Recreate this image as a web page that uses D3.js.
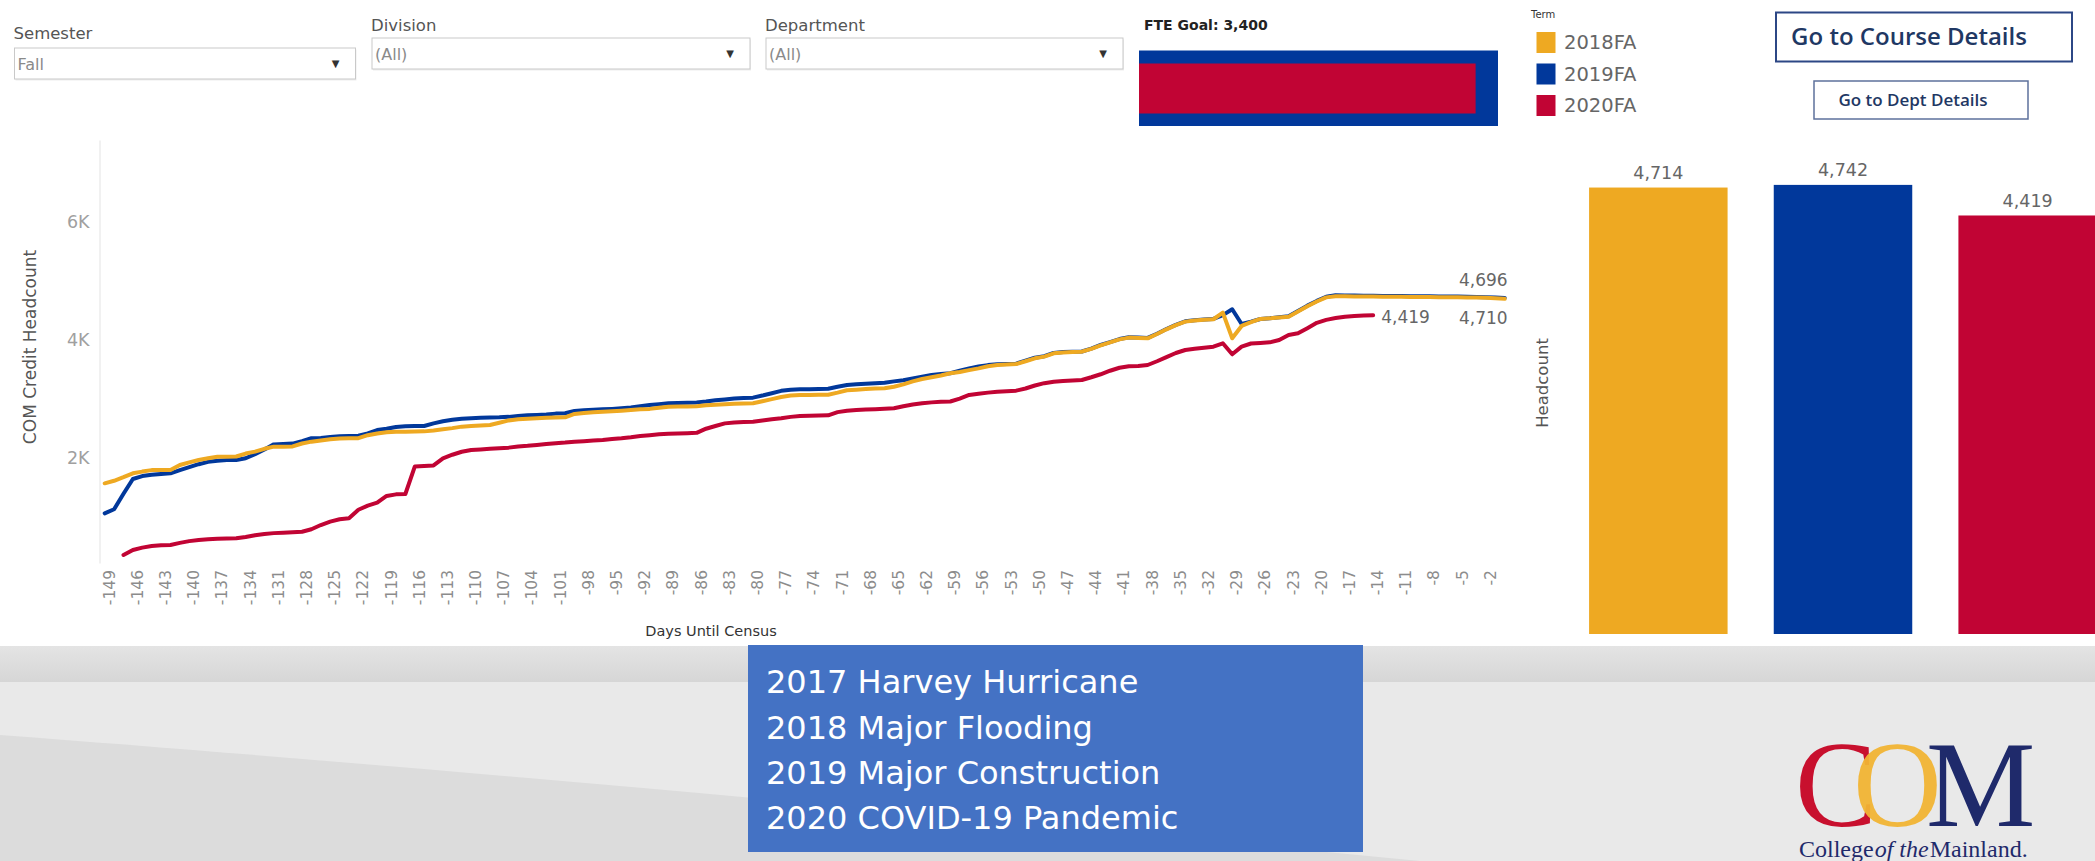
<!DOCTYPE html>
<html lang="en">
<head>
<meta charset="UTF-8">
<title>COM Credit Headcount - Days Until Census</title>
<script src="https://d3js.org/d3.v7.min.js"></script>
<style>
  body { margin: 0; padding: 0; background: #fff; }
  svg { display: block; }
</style>
</head>
<body>
<div id="dashboard"></div>
<script>
// ---- data ----
const terms = ["2018FA", "2019FA", "2020FA"];
const termColors = ["#eea922", "#01389b", "#c10434"];

// days until census, -149 .. 0 (one point per day)
const days = d3.range(-149, 1);
const tickDays = days.filter(d => (d + 149) % 3 === 0);

// COM credit headcount by day (2018FA)
const headcount2018 = [
  1577, 1620, 1680, 1746, 1775, 1800, 1802, 1802, 1887, 1930,
  1971, 2000, 2027, 2027, 2030, 2080, 2112, 2160, 2197, 2197,
  2200, 2250, 2281, 2300, 2320, 2335, 2338, 2340, 2390, 2420,
  2440, 2450, 2450, 2452, 2455, 2470, 2490, 2510, 2535, 2546,
  2555, 2563, 2600, 2640, 2660, 2670, 2676, 2685, 2690, 2693,
  2750, 2765, 2780, 2788, 2795, 2805, 2815, 2828, 2835, 2855,
  2872, 2874, 2876, 2880, 2895, 2905, 2915, 2920, 2925, 2930,
  2965, 3000, 3035, 3060, 3070, 3070, 3072, 3075, 3110, 3150,
  3160, 3170, 3178, 3183, 3210, 3250, 3300, 3340, 3369, 3400,
  3437, 3460, 3490, 3520, 3555, 3575, 3585, 3594, 3640, 3690,
  3718, 3775, 3790, 3798, 3802, 3850, 3910, 3960, 4010, 4040,
  4035, 4028, 4100, 4180, 4250, 4310, 4330, 4340, 4350, 4462,
  4028, 4237, 4300, 4355, 4365, 4380, 4394, 4480, 4570, 4650,
  4720, 4740, 4738, 4736, 4734, 4733, 4732, 4730, 4729, 4727,
  4726, 4725, 4724, 4722, 4720, 4718, 4716, 4712, 4705, 4696
];

// 2019FA
const headcount2019 = [
  1070, 1138, 1400, 1650, 1700, 1720, 1735, 1746, 1800, 1850,
  1900, 1940, 1960, 1971, 1971, 2000, 2070, 2150, 2235, 2242,
  2248, 2290, 2338, 2345, 2360, 2372, 2377, 2380, 2420, 2478,
  2500, 2530, 2540, 2545, 2546, 2590, 2625, 2650, 2670, 2676,
  2685, 2690, 2693, 2700, 2715, 2728, 2733, 2740, 2755, 2762,
  2800, 2812, 2822, 2828, 2835, 2845, 2858, 2880, 2900, 2915,
  2930, 2935, 2940, 2945, 2960, 2980, 2995, 3010, 3020, 3025,
  3060, 3100, 3140, 3160, 3166, 3168, 3170, 3175, 3210, 3239,
  3250, 3260, 3270, 3278, 3300, 3320, 3350, 3380, 3408, 3425,
  3437, 3480, 3520, 3550, 3575, 3588, 3595, 3600, 3650, 3700,
  3725, 3780, 3795, 3800, 3805, 3855, 3915, 3965, 4015, 4045,
  4040, 4035, 4105, 4185, 4255, 4315, 4335, 4345, 4355, 4420,
  4519, 4270, 4310, 4355, 4368, 4385, 4400, 4490, 4580, 4660,
  4730, 4755, 4752, 4750, 4748, 4746, 4745, 4744, 4742, 4740,
  4738, 4737, 4736, 4735, 4733, 4731, 4728, 4724, 4718, 4710
];

// 2020FA (no data before -147 and after -14)
const headcount2020 = [
  null, null, 365, 450, 490, 517, 530, 535, 570, 600,
  620, 630, 640, 645, 647, 670, 700, 720, 735, 742,
  750, 759, 800, 872, 930, 970, 986, 1130, 1200, 1250,
  1363, 1390, 1396, 1860, 1870, 1880, 2000, 2060, 2110, 2140,
  2150, 2160, 2169, 2180, 2200, 2210, 2225, 2240, 2254, 2265,
  2281, 2290, 2300, 2310, 2325, 2338, 2355, 2377, 2390, 2405,
  2415, 2420, 2425, 2430, 2500, 2545, 2590, 2605, 2612, 2619,
  2640, 2660, 2676, 2700, 2715, 2720, 2725, 2727, 2780, 2805,
  2815, 2825, 2830, 2838, 2845, 2880, 2910, 2930, 2945, 2955,
  2960, 3010, 3070, 3090, 3110, 3126, 3135, 3143, 3180, 3230,
  3270, 3295, 3305, 3315, 3324, 3370, 3420, 3480, 3530, 3555,
  3560, 3577, 3640, 3710, 3780, 3830, 3850, 3870, 3887, 3944,
  3758, 3887, 3940, 3950, 3960, 4000, 4085, 4113, 4200, 4290,
  4340, 4370, 4394, 4405, 4412, 4419, null, null, null, null,
  null, null, null, null, null, null, null, null, null, null
];

// census headcount per term (bar chart)
const censusHeadcount = [4714, 4742, 4419];

// FTE goal gauge
const fteGoal = 3400;
const fteCurrent = 3188;

const yTicks = [2000, 4000, 6000];

const filters = [
  {label: "Semester", value: "Fall"},
  {label: "Division", value: "(All)"},
  {label: "Department", value: "(All)"}
];

const events = [
  "2017 Harvey Hurricane",
  "2018 Major Flooding",
  "2019 Major Construction",
  "2020 COVID-19 Pandemic"
];

// ---- drawing ----
const W = 2095, H = 861;
const fmt = d3.format(",");
const SANS = "'DejaVu Sans', sans-serif";
const OPEN = "'Open Sans', sans-serif";
const SERIF = "'Liberation Serif', 'DejaVu Serif', serif";

const svg = d3.select("#dashboard").append("svg")
    .attr("width", W)
    .attr("height", H)
    .attr("font-family", SANS);

const defs = svg.append("defs");
const stripGrad = defs.append("linearGradient")
    .attr("id", "strip").attr("x1", 0).attr("y1", 0).attr("x2", 0).attr("y2", 1);
stripGrad.append("stop").attr("offset", "0%").attr("stop-color", "#e4e4e4");
stripGrad.append("stop").attr("offset", "100%").attr("stop-color", "#d6d6d6");

// page background + footer band
svg.append("rect").attr("width", W).attr("height", H).attr("fill", "#fff");
svg.append("rect").attr("x", 0).attr("y", 646).attr("width", W).attr("height", H - 646)
    .attr("fill", "#e9e9e9");
svg.append("path")
    .attr("d", "M0,735 C400,765 900,810 1420,861 L0,861 Z")
    .attr("fill", "#dcdcdc");
svg.append("rect").attr("x", 0).attr("y", 646).attr("width", W).attr("height", 36)
    .attr("fill", "url(#strip)");

// ---- filters ----
const filterPos = [
  {x: 14.5, ly: 33, by: 48, w: 341},
  {x: 372, ly: 25, by: 38, w: 378},
  {x: 766, ly: 25, by: 38, w: 357}
];
const fg = svg.append("g");
filters.forEach((f, i) => {
  const p = filterPos[i];
  fg.append("text")
      .attr("x", p.x - 1).attr("y", p.ly)
      .attr("dy", "0.35em")
      .attr("font-size", 16.5)
      .attr("fill", "#555")
      .text(f.label);
  fg.append("rect")
      .attr("x", p.x + 1).attr("y", p.by + 1.5)
      .attr("width", p.w).attr("height", 31)
      .attr("fill", "#eee");
  fg.append("rect")
      .attr("x", p.x).attr("y", p.by)
      .attr("width", p.w).attr("height", 31)
      .attr("fill", "#fff")
      .attr("stroke", "#c9c9c9");
  fg.append("text")
      .attr("x", p.x + 3).attr("y", p.by + 16)
      .attr("dy", "0.35em")
      .attr("font-size", 16)
      .attr("fill", "#8a8a8a")
      .text(f.value);
  fg.append("text")
      .attr("x", p.x + p.w - 20).attr("y", p.by + 15)
      .attr("dy", "0.35em")
      .attr("text-anchor", "middle")
      .attr("font-size", 10)
      .attr("fill", "#333")
      .text("\u25BC");
});

// ---- FTE goal gauge ----
const fteX = d3.scaleLinear().domain([0, fteGoal]).range([1139, 1498]);
svg.append("text")
    .attr("x", 1144).attr("y", 25)
    .attr("dy", "0.35em")
    .attr("font-size", 14)
    .attr("font-weight", "bold")
    .attr("fill", "#222")
    .text("FTE Goal: " + fmt(fteGoal));
svg.append("rect")
    .attr("x", fteX(0)).attr("y", 50.5)
    .attr("width", fteX(fteGoal) - fteX(0)).attr("height", 75.5)
    .attr("fill", termColors[1]);
svg.append("rect")
    .attr("x", fteX(0)).attr("y", 63.5)
    .attr("width", fteX(fteCurrent) - fteX(0)).attr("height", 50)
    .attr("fill", termColors[2]);

// ---- legend ----
const lg = svg.append("g");
lg.append("text")
    .attr("x", 1531).attr("y", 14)
    .attr("dy", "0.35em")
    .attr("font-size", 10)
    .attr("fill", "#333")
    .text("Term");
terms.forEach((t, i) => {
  const cy = 42.5 + i * 31.5;
  lg.append("rect")
      .attr("x", 1536.5).attr("y", cy - 10.5)
      .attr("width", 19).attr("height", 21)
      .attr("fill", termColors[i]);
  lg.append("text")
      .attr("x", 1564).attr("y", cy)
      .attr("dy", "0.35em")
      .attr("font-size", 19.5)
      .attr("fill", "#666")
      .text(t);
});

// ---- navigation buttons ----
svg.append("rect")
    .attr("x", 1776).attr("y", 12.5).attr("width", 296).attr("height", 49)
    .attr("fill", "#fff").attr("stroke", "#2c4785").attr("stroke-width", 2);
svg.append("text")
    .attr("x", 1909).attr("y", 37)
    .attr("dy", "0.35em")
    .attr("text-anchor", "middle")
    .attr("font-family", OPEN)
    .attr("font-weight", 600)
    .attr("font-size", 24)
    .attr("fill", "#1f3864")
    .text("Go to Course Details");
svg.append("rect")
    .attr("x", 1814).attr("y", 81).attr("width", 214).attr("height", 38)
    .attr("fill", "#fff").attr("stroke", "#5d719c").attr("stroke-width", 1.5);
svg.append("text")
    .attr("x", 1913).attr("y", 100)
    .attr("dy", "0.35em")
    .attr("text-anchor", "middle")
    .attr("font-family", OPEN)
    .attr("font-weight", 600)
    .attr("font-size", 17)
    .attr("fill", "#1f3864")
    .text("Go to Dept Details");

// ---- line chart: headcount by days until census ----
const x = d3.scalePoint().domain(days).range([104.7, 1504.7]);
const y = d3.scaleLinear().domain([230, 7380]).range([563, 140]);

const lc = svg.append("g");

const yAxis = lc.append("g")
    .attr("transform", "translate(99.5,0)")
    .call(d3.axisLeft(y).tickValues(yTicks).tickSize(0).tickPadding(10)
      .tickFormat(d => d / 1000 + "K"));
yAxis.select(".domain").attr("stroke", "#e3e3e3");
yAxis.selectAll("text")
    .attr("font-family", SANS)
    .attr("font-size", 17.5)
    .attr("fill", "#a0a0a0");

const xAxis = lc.append("g")
    .attr("transform", "translate(0,563)")
    .call(d3.axisBottom(x).tickValues(tickDays).tickSize(0));
xAxis.select(".domain").remove();
xAxis.selectAll("text")
    .attr("font-family", SANS)
    .attr("font-size", 15.5)
    .attr("fill", "#8c8c8c")
    .attr("transform", "rotate(-90)")
    .attr("x", -7)
    .attr("y", 4)
    .attr("dy", "0.35em")
    .style("text-anchor", "end");

lc.append("text")
    .attr("transform", "translate(30,347) rotate(-90)")
    .attr("text-anchor", "middle")
    .attr("dy", "0.35em")
    .attr("font-size", 17)
    .attr("fill", "#555")
    .text("COM Credit Headcount");

lc.append("text")
    .attr("x", 711).attr("y", 631)
    .attr("text-anchor", "middle")
    .attr("dy", "0.35em")
    .attr("font-size", 14.5)
    .attr("fill", "#333")
    .text("Days Until Census");

const series = [headcount2018, headcount2019, headcount2020];
const line = d3.line()
    .defined(d => d.v != null)
    .x(d => x(d.day))
    .y(d => y(d.v));

// draw 2020 first, then 2019, then 2018 on top
[2, 1, 0].forEach(i => {
  const pts = days.map((day, k) => ({day: day, v: series[i][k]}));
  lc.append("path")
      .datum(pts)
      .attr("d", line)
      .attr("fill", "none")
      .attr("stroke", termColors[i])
      .attr("stroke-width", 4)
      .attr("stroke-linejoin", "round")
      .attr("stroke-linecap", "round");
});

// end-of-line labels
const lastPoint = vals => {
  let k = vals.length - 1;
  while (vals[k] == null) k--;
  return {day: days[k], v: vals[k]};
};
const e18 = lastPoint(headcount2018);
const e19 = lastPoint(headcount2019);
const e20 = lastPoint(headcount2020);
const endLabel = (px, py, anchor, txt) => lc.append("text")
    .attr("x", px).attr("y", py)
    .attr("dy", "0.35em")
    .attr("text-anchor", anchor)
    .attr("font-size", 17)
    .attr("fill", "#666")
    .text(txt);
endLabel(x(e18.day) + 3, y(e18.v) - 19, "end", fmt(e18.v));
endLabel(x(e19.day) + 3, y(e19.v) + 20, "end", fmt(e19.v));
endLabel(x(e20.day) + 8, y(e20.v) + 2, "start", fmt(e20.v));

// ---- bar chart: census headcount per term ----
const bx = d3.scaleBand().domain(terms).range([1566, 2120])
    .paddingInner(0.25).paddingOuter(0.125);
const by = d3.scaleLinear().domain([0, 5216]).range([634, 140]);

const bc = svg.append("g");
bc.selectAll("rect.bar")
  .data(terms)
  .join("rect")
    .attr("class", "bar")
    .attr("x", d => bx(d))
    .attr("y", (d, i) => by(censusHeadcount[i]))
    .attr("width", bx.bandwidth())
    .attr("height", (d, i) => by(0) - by(censusHeadcount[i]))
    .attr("fill", (d, i) => termColors[i]);
bc.selectAll("text.val")
  .data(terms)
  .join("text")
    .attr("class", "val")
    .attr("x", d => bx(d) + bx.bandwidth() / 2)
    .attr("y", (d, i) => by(censusHeadcount[i]) - 15)
    .attr("dy", "0.35em")
    .attr("text-anchor", "middle")
    .attr("font-size", 17.5)
    .attr("fill", "#666")
    .text((d, i) => fmt(censusHeadcount[i]));
bc.append("text")
    .attr("transform", "translate(1542,383) rotate(-90)")
    .attr("text-anchor", "middle")
    .attr("dy", "0.35em")
    .attr("font-size", 16.5)
    .attr("fill", "#555")
    .text("Headcount");

// ---- events call-out ----
svg.append("rect")
    .attr("x", 748).attr("y", 645).attr("width", 615).attr("height", 207)
    .attr("fill", "#4472c4");
svg.append("g").selectAll("text")
  .data(events)
  .join("text")
    .attr("x", 766)
    .attr("y", (d, i) => 682 + i * 45.3)
    .attr("dy", "0.35em")
    .attr("font-size", 32)
    .attr("fill", "#fff")
    .text(d => d);

// ---- College of the Mainland logo (one text block: letters + tag line) ----
const logo = svg.append("text")
    .attr("font-family", SERIF)
    .attr("fill", "#1f2a6b");
logo.append("tspan").attr("x", 1795).attr("y", 826)
    .attr("font-size", 123).attr("fill", "#c8102e").text("C");
logo.append("tspan").attr("dx", -24)
    .attr("font-size", 123).attr("fill", "#f1b434").attr("fill-opacity", 0.95).text("O");
logo.append("tspan").attr("dx", -16)
    .attr("font-size", 123).attr("fill", "#1f2a6b").text("M");
logo.append("tspan").attr("x", 1799).attr("y", 857)
    .attr("font-size", 24).text("College");
logo.append("tspan").attr("dx", 1)
    .attr("font-size", 24).attr("font-style", "italic").text("of the");
logo.append("tspan").attr("dx", 1)
    .attr("font-size", 24).text("Mainland.");
</script>
</body>
</html>
